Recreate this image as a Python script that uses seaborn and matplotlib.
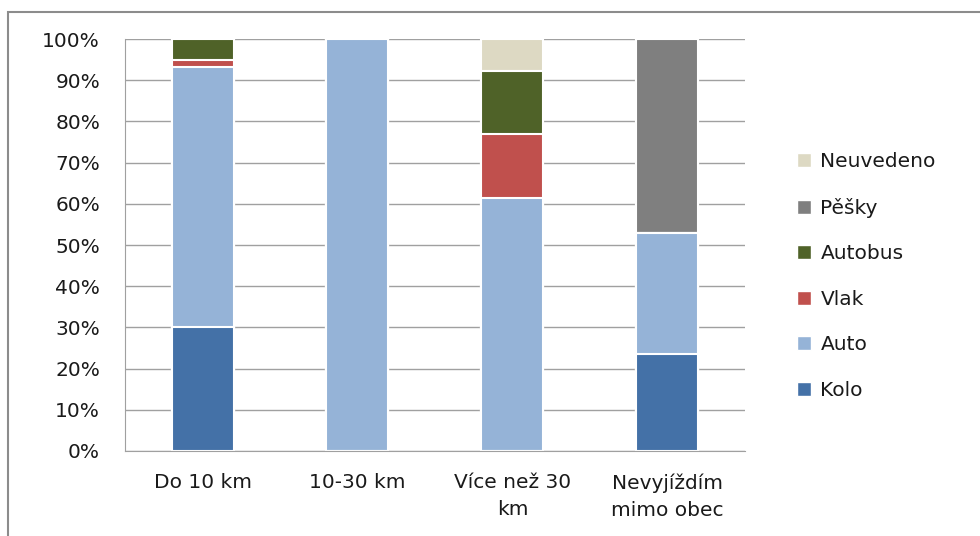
import pandas as pd
import numpy as np
import matplotlib
matplotlib.use('Agg')
import matplotlib.pyplot as plt
import seaborn as sns
from matplotlib.patches import Patch, Rectangle

# shares in % per distance category
categories = ['Do 10 km', '10-30 km', 'Více než 30\nkm', 'Nevyjíždím\nmimo obec']
kolo = [30.0, 0.0, 0.0, 23.5]
auto = [63.3, 100.0, 61.5, 29.4]
vlak = [1.7, 0.0, 15.4, 0.0]
autobus = [5.0, 0.0, 15.4, 0.0]
pesky = [0.0, 0.0, 0.0, 47.1]
neuvedeno = [0.0, 0.0, 7.7, 0.0]

series = ['Kolo', 'Auto', 'Vlak', 'Autobus', 'Pěšky', 'Neuvedeno']
colors = ['#4471A7', '#95B3D7', '#C0504D', '#4F6228', '#7F7F7F', '#DDD9C3']

df = pd.DataFrame({'Kategorie': categories, 'Kolo': kolo, 'Auto': auto,
                   'Vlak': vlak, 'Autobus': autobus, 'Pěšky': pesky,
                   'Neuvedeno': neuvedeno})

sns.set_style('white')
plt.rcParams['font.family'] = ['DejaVu Sans']
plt.rcParams['text.color'] = '#1A1A1A'
plt.rcParams['xtick.labelcolor'] = '#1A1A1A'
plt.rcParams['ytick.labelcolor'] = '#1A1A1A'
fs = 14.5

fig = plt.figure(figsize=(9.8, 5.36), dpi=100)
ax = fig.add_axes([0.1276, 0.1586, 0.6324, 0.7686])

# stacked bars: draw cumulative totals from the top series down
cum = df[series].cumsum(axis=1)
for s, c in reversed(list(zip(series, colors))):
    sns.barplot(x=df['Kategorie'], y=cum[s], color=c, width=0.4, saturation=1,
                edgecolor='white', linewidth=1.5, ax=ax, order=categories)

ax.set_ylim(0, 100)
ax.set_xlim(-0.5, 3.5)
ax.set_yticks(np.arange(0, 101, 10))
ax.set_yticklabels([f'{v}%' for v in range(0, 101, 10)], fontsize=fs)
ax.set_xticks(range(4))
ax.set_xticklabels(categories, fontsize=fs, linespacing=1.55)
ax.set_xticks(np.arange(-0.5, 4, 1), minor=True)
ax.tick_params(axis='x', which='major', length=0, pad=16)
ax.tick_params(axis='x', which='minor', length=6, color='#A0A0A0', direction='out')
ax.tick_params(axis='y', length=6, color='#A0A0A0', direction='out', pad=12)
ax.set_xlabel('')
ax.set_ylabel('')
ax.yaxis.grid(True, color='#A0A0A0', linewidth=1)
ax.set_axisbelow(True)
for sp in ['top', 'right']:
    ax.spines[sp].set_visible(False)
for sp in ['left', 'bottom']:
    ax.spines[sp].set_color('#A0A0A0')

handles = [Patch(facecolor=c, edgecolor='white', label=s)
           for s, c in zip(series, colors)][::-1]
fig.legend(handles=handles, loc='center left', bbox_to_anchor=(0.795, 0.485),
           frameon=False, fontsize=fs, labelspacing=1.32,
           handlelength=0.7, handleheight=0.7, handletextpad=0.45)

fig.patches.append(Rectangle((0.008, -0.01), 1.0, 0.988, transform=fig.transFigure,
                             fill=False, edgecolor='#8C8C8C', linewidth=1.5))

fig.savefig('out.png', dpi=100)
